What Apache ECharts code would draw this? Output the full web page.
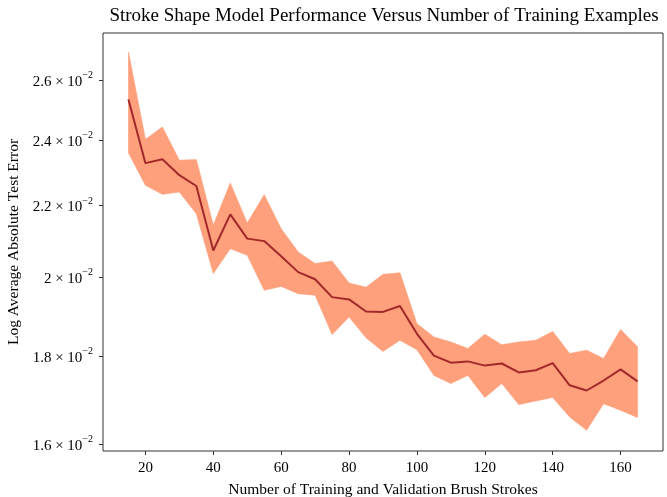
<!DOCTYPE html>
<html>
<head>
<meta charset="utf-8">
<script src="https://cdn.jsdelivr.net/npm/echarts@6/dist/echarts.min.js"></script>
<style>
  html, body { margin: 0; padding: 0; background: #fff; }
  #chart { width: 667px; height: 497px; }
</style>
</head>
<body>
<div id="chart"></div>
<script>
// ---- data ----
const trainingExamples = [15, 20, 25, 30, 35, 40, 45, 50, 55, 60, 65, 70, 75, 80, 85, 90, 95, 100, 105, 110, 115, 120, 125, 130, 135, 140, 145, 150, 155, 160, 165];
const meanError = [0.02534, 0.02328, 0.02340, 0.02291, 0.02258, 0.02072, 0.02174, 0.02105, 0.02098, 0.02056, 0.02013, 0.01994, 0.01947, 0.01941, 0.01910, 0.01909, 0.01924, 0.01854, 0.01801, 0.01784, 0.01787, 0.01777, 0.01782, 0.01761, 0.01766, 0.01783, 0.01731, 0.01719, 0.01742, 0.01768, 0.01740];
const upperError = [0.02700, 0.02403, 0.02443, 0.02337, 0.02339, 0.02143, 0.02267, 0.02149, 0.02232, 0.02133, 0.02068, 0.02036, 0.02043, 0.01984, 0.01973, 0.02007, 0.02011, 0.01879, 0.01846, 0.01834, 0.01818, 0.01853, 0.01827, 0.01834, 0.01838, 0.01860, 0.01806, 0.01814, 0.01794, 0.01865, 0.01822];
const lowerError = [0.02360, 0.02260, 0.02233, 0.02240, 0.02176, 0.02009, 0.02077, 0.02059, 0.01965, 0.01975, 0.01956, 0.01952, 0.01852, 0.01896, 0.01844, 0.01811, 0.01838, 0.01815, 0.01754, 0.01735, 0.01754, 0.01703, 0.01735, 0.01687, 0.01695, 0.01703, 0.01659, 0.01630, 0.01689, 0.01674, 0.01658];
const xTicks = [20, 40, 60, 80, 100, 120, 140, 160];
const yTicks = [0.016, 0.018, 0.020, 0.022, 0.024, 0.026];
const yTickMantissas = ['1.6', '1.8', '2', '2.2', '2.4', '2.6'];
const yTickExponent = '\u22122';

// ---- log transform for the y scale ----
const lg = v => Math.log10(v);
const serif = 'Liberation Serif';

const chart = echarts.init(document.getElementById('chart'), null, { renderer: 'canvas' });

const bandData = trainingExamples.map((x, i) => [x, lg(upperError[i]), lg(lowerError[i])]);
const lineData = trainingExamples.map((x, i) => [x, lg(meanError[i])]);

chart.setOption({
  animation: false,
  backgroundColor: '#ffffff',
  title: {
    text: 'Stroke Shape Model Performance Versus Number of Training Examples',
    left: 384,
    top: 7,
    padding: 0,
    textAlign: 'center',
    textStyle: { fontFamily: serif, fontSize: 19, fontWeight: 'normal', color: '#000' }
  },
  grid: {
    left: 103, right: 4, top: 33, bottom: 46,
    outerBoundsMode: 'none',
    containLabel: false,
    show: true, borderColor: '#333', borderWidth: 1, backgroundColor: 'transparent'
  },
  xAxis: {
    type: 'value',
    min: 7.5, max: 172.5,
    name: 'Number of Training and Validation Brush Strokes',
    nameLocation: 'middle',
    nameGap: 31,
    nameTextStyle: { fontFamily: serif, fontSize: 15.5, color: '#000' },
    axisLine: { show: false },
    splitLine: { show: false },
    axisTick: { show: true, customValues: xTicks, length: 4, lineStyle: { color: '#333' } },
    axisLabel: { customValues: xTicks, fontFamily: serif, fontSize: 15, color: '#000', margin: 10 }
  },
  yAxis: {
    type: 'value',
    min: lg(0.015857), max: lg(0.027693),
    name: 'Log Average Absolute Test Error',
    nameLocation: 'middle',
    nameRotate: 90,
    nameGap: 75,
    nameTextStyle: { fontFamily: serif, fontSize: 15.5, color: '#000' },
    axisLine: { show: false },
    splitLine: { show: false },
    axisTick: { show: true, customValues: yTicks.map(lg), length: 4, lineStyle: { color: '#333' } },
    axisLabel: {
      customValues: yTicks.map(lg),
      margin: 10,
      formatter: function (val) {
        const v = Math.pow(10, val);
        let idx = 0, best = Infinity;
        yTicks.forEach((t, i) => { const d = Math.abs(t - v); if (d < best) { best = d; idx = i; } });
        return '{m|' + yTickMantissas[idx] + ' \u00d7 10}{s|' + yTickExponent + '}';
      },
      rich: {
        m: { fontFamily: serif, fontSize: 15, lineHeight: 19, verticalAlign: 'bottom', color: '#000' },
        s: { fontFamily: serif, fontSize: 10, lineHeight: 10, verticalAlign: 'top', color: '#000' }
      }
    }
  },
  series: [
    {
      type: 'custom',
      name: 'band',
      data: bandData,
      encode: { x: 0, y: [1, 2] },
      z: 1,
      renderItem: function (params, api) {
        if (params.dataIndex !== 0) return null;
        const pts = [];
        for (let i = 0; i < bandData.length; i++) pts.push(api.coord([bandData[i][0], bandData[i][1]]));
        for (let i = bandData.length - 1; i >= 0; i--) pts.push(api.coord([bandData[i][0], bandData[i][2]]));
        return { type: 'polygon', shape: { points: pts }, style: { fill: '#fda07b', stroke: '#fda07b', lineWidth: 0.6 } };
      }
    },
    {
      type: 'line',
      name: 'mean',
      data: lineData,
      z: 3,
      showSymbol: false,
      symbol: 'none',
      lineStyle: { color: '#a3282b', width: 2 }
    }
  ]
});
</script>
</body>
</html>
